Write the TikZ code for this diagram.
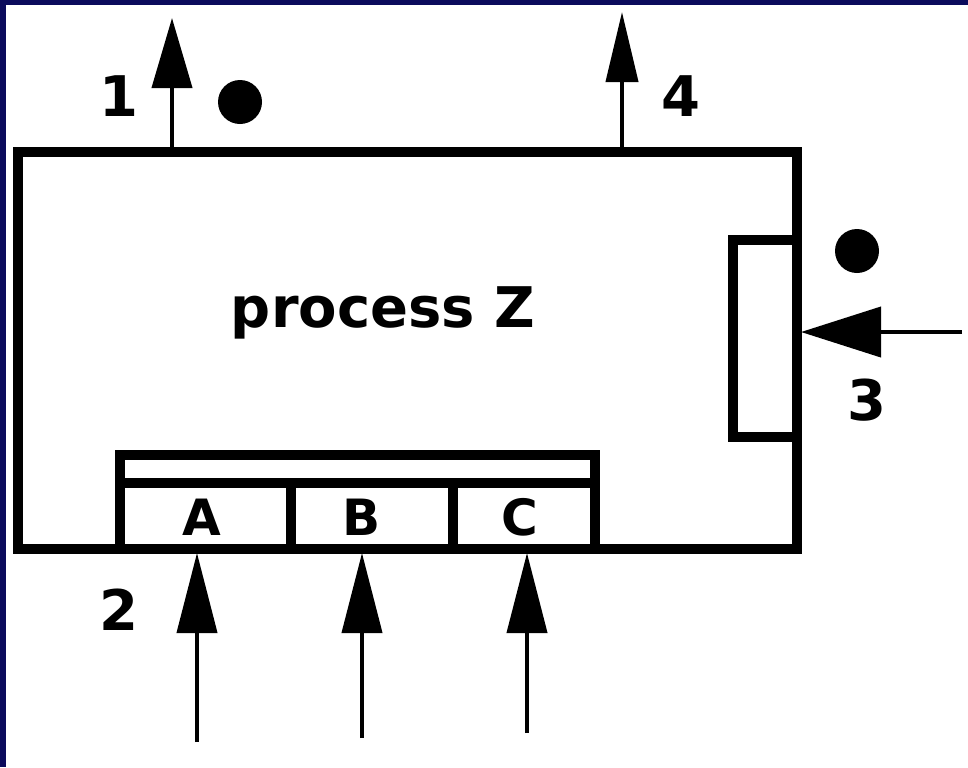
\documentclass[tikz,border=0pt]{standalone}
\usepackage{fontspec}
\setmainfont{DejaVu Sans}
\usetikzlibrary{arrows.meta}
\definecolor{navy}{HTML}{0B0B5C}
\begin{document}
\begin{tikzpicture}[x=0.5pt,y=-0.5pt,
  box/.style={line width=5pt, draw=black},
  flow/.style={line width=2pt, draw=black},
  lbl/.style={font=\fontsize{28}{32}\selectfont\bfseries, inner sep=0pt},
  slot/.style={font=\fontsize{25}{30}\selectfont\bfseries, inner sep=0pt},
  dotmark/.style={circle, fill=black, minimum size=22pt, inner sep=0pt}]
\fill[navy] (0,0) rectangle (968,767);
\fill[white] (6,5) rectangle (968,767);
\useasboundingbox (0,0) rectangle (968,767);
% main process box
\draw[box] (18,152) rectangle (797,549);
% right port box
\draw[box] (797,240) -- (733,240) -- (733,437) -- (797,437);
% bottom port box
\draw[box] (120,549) -- (120,455) -- (595,455) -- (595,549);
\draw[box] (120,483) -- (595,483);
\draw[box] (291,483) -- (291,549);
\draw[box] (453,483) -- (453,549);
% texts
\node[lbl] (proc) at (383,313) {process Z};
\node[slot] (A) at (202,517) {A};
\node[slot] (B) at (362,517) {B};
\node[slot] (C) at (520,517) {C};
\node[lbl] (l1) at (119,96) {1};
\node[lbl] (l4) at (681,96) {4};
\node[lbl] (l3) at (867,400) {3};
\node[lbl] (l2) at (119,610) {2};
\node[dotmark] (d1) at (240,102) {};
\node[dotmark] (d3) at (857,251) {};
% connector coordinates
\coordinate (o1s) at (172,148);
\coordinate (o1e) at (172,18);
\coordinate (o4s) at (622,148);
\coordinate (o4e) at (622,12);
\coordinate (i3s) at (962,332);
\coordinate (i3e) at (801,332);
\coordinate (iAs) at (197,742);
\coordinate (iAe) at (197,553);
\coordinate (iBs) at (362,738);
\coordinate (iBe) at (362,553);
\coordinate (iCs) at (527,733);
\coordinate (iCe) at (527,553);
% connectors
\draw[flow, -{Triangle[length=35pt,width=20pt]}] (o1s) -- (o1e);
\draw[flow, -{Triangle[length=35pt,width=16pt]}] (o4s) -- (o4e);
\draw[flow, -{Triangle[length=40pt,width=25pt]}] (i3s) -- (i3e);
\draw[flow, -{Triangle[length=40pt,width=20pt]}] (iAs) -- (iAe);
\draw[flow, -{Triangle[length=40pt,width=20pt]}] (iBs) -- (iBe);
\draw[flow, -{Triangle[length=40pt,width=20pt]}] (iCs) -- (iCe);
\end{tikzpicture}
\end{document}
